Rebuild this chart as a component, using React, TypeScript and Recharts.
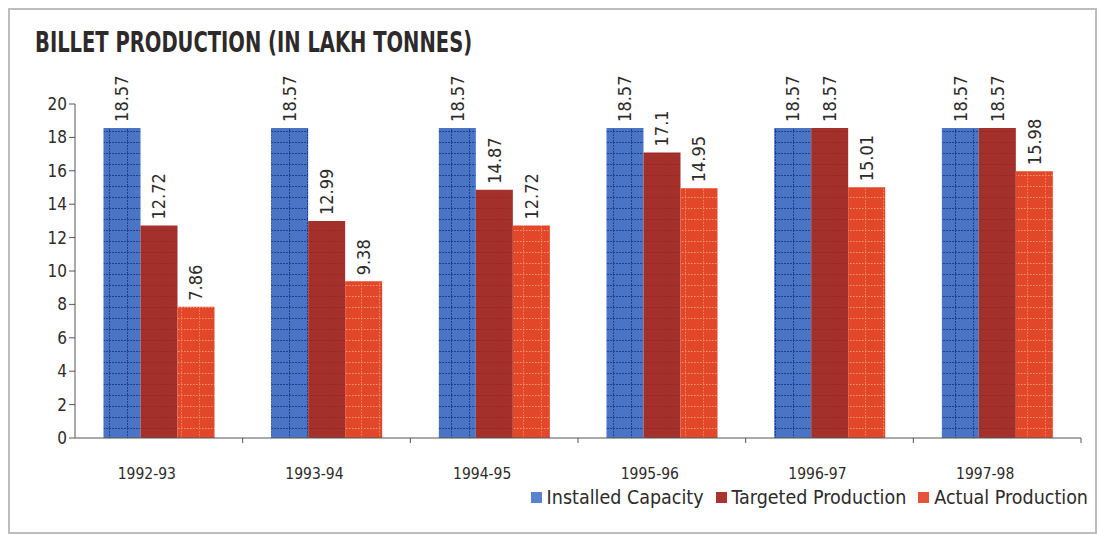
import React from "react";
import {
  BarChart,
  Bar,
  XAxis,
  YAxis,
  Legend,
  LabelList,
} from "recharts";

const years = ["1992-93", "1993-94", "1994-95", "1995-96", "1996-97", "1997-98"];
const installedCapacity = [18.57, 18.57, 18.57, 18.57, 18.57, 18.57];
const targetedProduction = [12.72, 12.99, 14.87, 17.1, 18.57, 18.57];
const actualProduction = [7.86, 9.38, 12.72, 14.95, 15.01, 15.98];
const yTicks = [0, 2, 4, 6, 8, 10, 12, 14, 16, 18, 20];

const data = years.map((year, i) => ({
  year,
  installed: installedCapacity[i],
  targeted: targetedProduction[i],
  actual: actualProduction[i],
}));

const FONT = '"Liberation Sans Narrow", "DejaVu Sans Condensed", Arial, sans-serif';
const TEXT = "#2e2a2a";

const series = [
  { key: "installed", name: "Installed Capacity", fill: "url(#patBlue)", swatch: "#5b82d0" },
  { key: "targeted", name: "Targeted Production", fill: "url(#patBrown)", swatch: "#a83530" },
  { key: "actual", name: "Actual Production", fill: "url(#patOrange)", swatch: "#e8523a" },
];

function ValueLabel(props: any) {
  const { x, y, width, value } = props;
  return (
    <text
      x={x + width / 2}
      y={y - 6}
      transform={`rotate(-90 ${x + width / 2} ${y - 6})`}
      textAnchor="start"
      dominantBaseline="central"
      fontSize={18}
      fontFamily={FONT}
      fill={TEXT}
    >
      {value}
    </text>
  );
}

function CategoryTick(props: any) {
  const { x, y, payload } = props;
  const half = payload && payload.offset ? payload.offset : 84;
  return (
    <g>
      <line x1={x + half} y1={y - 8} x2={x + half} y2={y - 3} stroke="#555" />
      <text
        x={x - 12}
        y={y + 33}
        textAnchor="middle"
        fontSize={15.5}
        fontFamily={FONT}
        fill={TEXT}
      >
        {payload.value}
      </text>
    </g>
  );
}

function LegendContent() {
  return (
    <div
      style={{
        display: "flex",
        justifyContent: "flex-end",
        fontFamily: FONT,
        fontSize: 19.5,
        color: TEXT,
      }}
    >
      {series.map((s) => (
        <span key={s.key} style={{ display: "flex", alignItems: "center", marginLeft: 12 }}>
          <span
            style={{
              display: "inline-block",
              width: 11,
              height: 11,
              background: s.swatch,
              marginRight: 5,
            }}
          />
          {s.name}
        </span>
      ))}
    </div>
  );
}

export default function App() {
  return (
    <div
      style={{
        position: "relative",
        width: 1089,
        height: 526,
        border: "2px solid #bdbdbd",
        boxSizing: "border-box",
        background: "#fff",
      }}
    >
      <div
        style={{
          position: "absolute",
          left: 25,
          top: 16,
          fontFamily: FONT,
          fontWeight: "bold",
          fontSize: 28,
          color: TEXT,
          transform: "scaleX(0.775)",
          transformOrigin: "left top",
          whiteSpace: "nowrap",
        }}
      >
        BILLET PRODUCTION (IN LAKH TONNES)
      </div>
      <BarChart
        width={1085}
        height={522}
        data={data}
        barGap={0}
        barCategoryGap="17%"
        margin={{ top: 94, right: 14, left: 20, bottom: 30 }}
      >
        <defs>
          <pattern id="patBlue" patternUnits="userSpaceOnUse" width={18} height={11}>
            <rect width={18} height={11} fill="#4a74c6" />
            <line x1={0} y1={0.5} x2={18} y2={0.5} stroke="#1f3f8a" strokeWidth={1.2} strokeDasharray="2 1" />
            <line x1={9.5} y1={0} x2={9.5} y2={11} stroke="#1f3f8a" strokeWidth={1} strokeDasharray="2 1" />
          </pattern>
          <pattern id="patBrown" patternUnits="userSpaceOnUse" width={18} height={11}>
            <rect width={18} height={11} fill="#a3302a" />
            <line x1={0} y1={0.5} x2={18} y2={0.5} stroke="#962723" strokeWidth={1} strokeDasharray="2 1" />
          </pattern>
          <pattern id="patOrange" patternUnits="userSpaceOnUse" width={18} height={11}>
            <rect width={18} height={11} fill="#e2472a" />
            <line x1={0} y1={0.5} x2={18} y2={0.5} stroke="#f59a6e" strokeWidth={1.2} strokeDasharray="1.5 1.5" />
            <line x1={9.5} y1={0} x2={9.5} y2={11} stroke="#f28a5e" strokeWidth={1} strokeDasharray="1.5 1.5" />
          </pattern>
        </defs>
        <XAxis
          dataKey="year"
          axisLine={{ stroke: "#555" }}
          tickLine={false}
          tick={<CategoryTick />}
          height={36}
          interval={0}
        />
        <YAxis
          domain={[0, 20]}
          ticks={yTicks}
          interval={0}
          width={45}
          axisLine={{ stroke: "#555" }}
          tickLine={{ stroke: "#555" }}
          tickSize={6}
          tick={{ fontSize: 17, fontFamily: FONT, fill: TEXT }}
        />
        <Legend
          verticalAlign="bottom"
          height={28}
          content={<LegendContent />}
          wrapperStyle={{ left: 0, width: 1078, bottom: 18 }}
        />
        {series.map((s) => (
          <Bar key={s.key} dataKey={s.key} name={s.name} fill={s.fill} isAnimationActive={false}>
            <LabelList dataKey={s.key} content={<ValueLabel />} />
          </Bar>
        ))}
      </BarChart>
    </div>
  );
}
